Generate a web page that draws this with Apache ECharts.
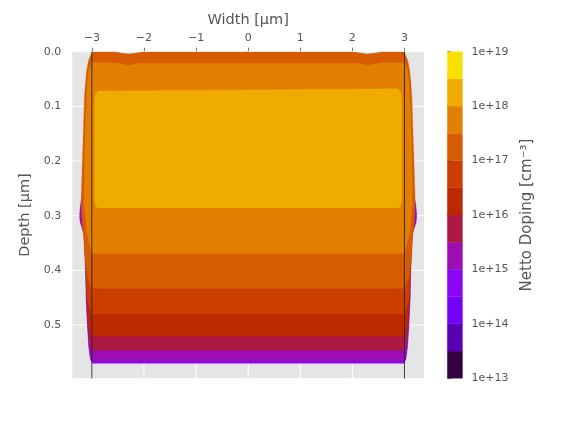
<!DOCTYPE html>
<html><head><meta charset="utf-8">
<script src="https://cdn.jsdelivr.net/npm/echarts@6/dist/echarts.min.js"></script>
<style>html,body{margin:0;padding:0;background:#fff}#c{width:570px;height:427px}</style>
</head><body><div id="c"></div>
<script>
// ---- axes / ticks ----
const xTicks = [-3, -2, -1, 0, 1, 2, 3];
const yTicks = [0.0, 0.1, 0.2, 0.3, 0.4, 0.5];
const xRange = [-3.375, 3.375];
const yRange = [0, 0.5975];
const deviceEdges = [-3, 3];

// ---- colour bar: log10 levels and band colours ----
const levelBounds = [13, 13.5, 14, 14.5, 15, 15.5, 16, 16.5, 17, 17.5, 18, 18.5, 19];
const bandColors = ['#340042', '#5a00b4', '#7402f6', '#8a06f6', '#9c0db4', '#ad1942',
                    '#bc2900', '#ca3e00', '#d75b00', '#e37f00', '#efab00', '#fae000'];

// ---- filled contour regions (x [um], depth [um]); region where doping >= level ----
// (upper parts of the low levels lie under the 1e17 region and are only visible at the bulge and the bottom)
const topEdge = [[-2.99,0],[-2.58,0],[-2.42,0.003],[-2.28,0.004],[-2.12,0.002],[-2.0,0],[2.0,0],[2.12,0.002],[2.28,0.004],[2.42,0.003],[2.58,0],[2.99,0]];
const region145 = [[-2.95,0.012],[2.95,0.012],[3.05,0.02],[3.1,0.05],[3.15,0.17],[3.18,0.26],[3.22,0.282],[3.235,0.3],[3.225,0.312],[3.19,0.322],[3.15,0.335],[3.12,0.4],[3.11,0.45],[3.085,0.5],[3.06,0.54],[3.03,0.562],[2.99,0.570],
                   [-2.99,0.570],[-3.03,0.562],[-3.06,0.54],[-3.085,0.5],[-3.11,0.45],[-3.12,0.4],[-3.15,0.335],[-3.19,0.322],[-3.225,0.312],[-3.235,0.3],[-3.22,0.282],[-3.18,0.26],[-3.15,0.17],[-3.1,0.05],[-3.05,0.02]];
const region150 = [[-2.95,0.012],[2.95,0.012],[3.05,0.02],[3.1,0.05],[3.15,0.17],[3.18,0.26],[3.21,0.285],[3.22,0.3],[3.21,0.31],[3.18,0.32],[3.145,0.335],[3.115,0.4],[3.105,0.45],[3.08,0.5],[3.05,0.54],[3.02,0.558],[2.99,0.566],
                   [-2.99,0.566],[-3.02,0.558],[-3.05,0.54],[-3.08,0.5],[-3.105,0.45],[-3.115,0.4],[-3.145,0.335],[-3.18,0.32],[-3.21,0.31],[-3.22,0.3],[-3.21,0.285],[-3.18,0.26],[-3.15,0.17],[-3.1,0.05],[-3.05,0.02]];
const region155 = [[-2.95,0.012],[2.95,0.012],[3.05,0.02],[3.1,0.05],[3.15,0.17],[3.18,0.26],[3.18,0.31],[3.14,0.335],[3.11,0.4],[3.1,0.45],[3.075,0.5],[3.04,0.535],[3.0,0.546],
                   [-3.0,0.546],[-3.04,0.535],[-3.075,0.5],[-3.1,0.45],[-3.11,0.4],[-3.14,0.335],[-3.18,0.31],[-3.18,0.26],[-3.15,0.17],[-3.1,0.05],[-3.05,0.02]];
const region160 = [[-2.95,0.012],[2.95,0.012],[3.05,0.02],[3.1,0.05],[3.15,0.17],[3.18,0.26],[3.18,0.31],[3.14,0.335],[3.11,0.4],[3.095,0.45],[3.06,0.5],[3.0,0.520],
                   [-3.0,0.520],[-3.06,0.5],[-3.095,0.45],[-3.11,0.4],[-3.14,0.335],[-3.18,0.31],[-3.18,0.26],[-3.15,0.17],[-3.1,0.05],[-3.05,0.02]];
const region165 = [[-2.95,0.012],[2.95,0.012],[3.05,0.02],[3.1,0.05],[3.15,0.17],[3.18,0.26],[3.18,0.31],[3.14,0.335],[3.115,0.4],[3.09,0.45],[3.0,0.480],
                   [-3.0,0.480],[-3.09,0.45],[-3.115,0.4],[-3.14,0.335],[-3.18,0.31],[-3.18,0.26],[-3.15,0.17],[-3.1,0.05],[-3.05,0.02]];
const region170 = [[3.01,0.004],[3.06,0.015],[3.1,0.035],[3.14,0.08],[3.17,0.17],[3.2,0.26],[3.2,0.29],[3.185,0.315],[3.16,0.335],[3.13,0.38],[3.08,0.415],[3.0,0.433],
                   [-3.0,0.433],[-3.08,0.415],[-3.13,0.38],[-3.16,0.335],[-3.185,0.315],[-3.2,0.29],[-3.2,0.26],[-3.17,0.17],[-3.14,0.08],[-3.1,0.035],[-3.06,0.015],[-3.01,0.004]];
const region175 = [[-2.99,0.02],[-2.55,0.02],[-2.3,0.025],[-2.05,0.021],[2.05,0.021],[2.3,0.025],[2.55,0.02],[2.99,0.02],
                   [3.05,0.03],[3.09,0.06],[3.12,0.12],[3.14,0.2],[3.15,0.28],[3.1,0.33],[3.05,0.35],[3.0,0.369],
                   [-3.0,0.369],[-3.05,0.35],[-3.1,0.33],[-3.15,0.28],[-3.14,0.2],[-3.12,0.12],[-3.09,0.06],[-3.05,0.03]];
const region180 = [[-2.95,0.09],[-2.93,0.078],[-2.88,0.072],[0,0.070],[2.88,0.068],[2.93,0.074],[2.95,0.088],
                   [2.95,0.27],[2.93,0.282],[2.88,0.286],[-2.88,0.286],[-2.93,0.282],[-2.95,0.27]];

const contourRegions = [
  {band: 3, pts: region145},
  {band: 4, pts: region150},
  {band: 5, pts: region155},
  {band: 6, pts: region160},
  {band: 7, pts: region165},
  {band: 8, pts: topEdge.concat(region170)},
  {band: 9, pts: region175},
  {band: 10, pts: region180}
];

const FONT = 'DejaVu Sans';
const TXT = '#555555';
const fmtX = v => (v < 0 ? '\u2212' + Math.abs(v) : String(v));
const tickText = {color: TXT, fontFamily: FONT, fontSize: 11, fontWeight: 'normal'};

const chart = echarts.init(document.getElementById('c'), null, {renderer: 'canvas'});
chart.setOption({
  animation: false,
  backgroundColor: '#ffffff',
  textStyle: {fontFamily: FONT, fontSize: 11},
  grid: [
    {left: 72.3, top: 51.7, width: 351.7, height: 326.6, backgroundColor: '#e5e5e5', show: true, borderWidth: 0},
    {left: 447.3, top: 51.7, width: 15.2, height: 326.6, show: false}
  ],
  xAxis: [
    {gridIndex: 0, type: 'value', position: 'top', min: xRange[0], max: xRange[1],
     axisLine: {show: false}, splitLine: {show: false},
     axisTick: {show: true, length: 4, lineStyle: {color: TXT, width: 0.8}, customValues: xTicks},
     axisLabel: Object.assign({customValues: xTicks, formatter: fmtX, margin: 8}, tickText),
     name: 'Width [\u03bcm]', nameLocation: 'middle', nameGap: 24,
     nameTextStyle: {color: TXT, fontFamily: FONT, fontSize: 14.5}},
    {gridIndex: 1, type: 'value', min: 0, max: 1, show: false}
  ],
  yAxis: [
    {gridIndex: 0, type: 'value', inverse: true, min: yRange[0], max: yRange[1],
     axisLine: {show: false}, splitLine: {show: false},
     axisTick: {show: true, length: 4, lineStyle: {color: TXT, width: 0.8}, customValues: yTicks},
     axisLabel: Object.assign({customValues: yTicks, formatter: v => v.toFixed(1), margin: 11}, tickText),
     name: 'Depth [\u03bcm]', nameLocation: 'middle', nameGap: 34, nameRotate: 90,
     nameTextStyle: {color: TXT, fontFamily: FONT, fontSize: 14.5}},
    {gridIndex: 1, type: 'value', position: 'right', min: levelBounds[0], max: levelBounds[levelBounds.length - 1], interval: 1,
     axisLine: {show: false}, splitLine: {show: false},
     axisTick: {show: true, length: 4, lineStyle: {color: TXT, width: 0.8}},
     axisLabel: Object.assign({formatter: v => '1e+' + v, margin: 9}, tickText),
     name: 'Netto Doping [cm\u207b\u00b3]', nameLocation: 'middle', nameGap: 57, nameRotate: 90,
     nameTextStyle: {color: TXT, fontFamily: FONT, fontSize: 15}}
  ],
  series: [
    {type: 'custom', name: 'gridX', xAxisIndex: 0, yAxisIndex: 0, z: 1, silent: true,
     data: xTicks.map(v => [v]),
     renderItem: (p, api) => {
       const a = api.coord([xTicks[p.dataIndex], yRange[0]]), b = api.coord([xTicks[p.dataIndex], yRange[1]]);
       return {type: 'line', shape: {x1: a[0], y1: a[1], x2: b[0], y2: b[1]}, style: {stroke: '#ffffff', lineWidth: 1}};
     }},
    {type: 'custom', name: 'gridY', xAxisIndex: 0, yAxisIndex: 0, z: 1, silent: true,
     data: yTicks.map(v => [0, v]),
     renderItem: (p, api) => {
       const a = api.coord([xRange[0], yTicks[p.dataIndex]]), b = api.coord([xRange[1], yTicks[p.dataIndex]]);
       return {type: 'line', shape: {x1: a[0], y1: a[1], x2: b[0], y2: b[1]}, style: {stroke: '#ffffff', lineWidth: 1}};
     }},
    {type: 'custom', name: 'doping', xAxisIndex: 0, yAxisIndex: 0, z: 2, clip: true, silent: true,
     data: contourRegions.map((c, i) => [i]),
     renderItem: (p, api) => {
       const c = contourRegions[p.dataIndex];
       return {type: 'polygon', z2: p.dataIndex,
               shape: {points: c.pts.map(q => api.coord(q))},
               style: {fill: bandColors[c.band], stroke: bandColors[c.band], lineWidth: 0.4}};
     }},
    {type: 'custom', name: 'edges', xAxisIndex: 0, yAxisIndex: 0, z: 3, silent: true,
     data: deviceEdges.map(v => [v]),
     renderItem: (p, api) => {
       const a = api.coord([deviceEdges[p.dataIndex], yRange[0]]), b = api.coord([deviceEdges[p.dataIndex], yRange[1]]);
       return {type: 'line', shape: {x1: a[0], y1: a[1], x2: b[0], y2: b[1]}, style: {stroke: '#262626', lineWidth: 0.9}};
     }},
    {type: 'custom', name: 'colorbar', xAxisIndex: 1, yAxisIndex: 1, z: 2, silent: true,
     data: bandColors.map((c, i) => [levelBounds[i], levelBounds[i + 1]]),
     renderItem: (p, api) => {
       const lo = api.coord([0, levelBounds[p.dataIndex]]), hi = api.coord([1, levelBounds[p.dataIndex + 1]]);
       return {type: 'rect', shape: {x: lo[0], y: hi[1], width: hi[0] - lo[0], height: lo[1] - hi[1]},
               style: {fill: bandColors[p.dataIndex], stroke: bandColors[p.dataIndex], lineWidth: 0.3}};
     }}
  ]
});
</script></body></html>
